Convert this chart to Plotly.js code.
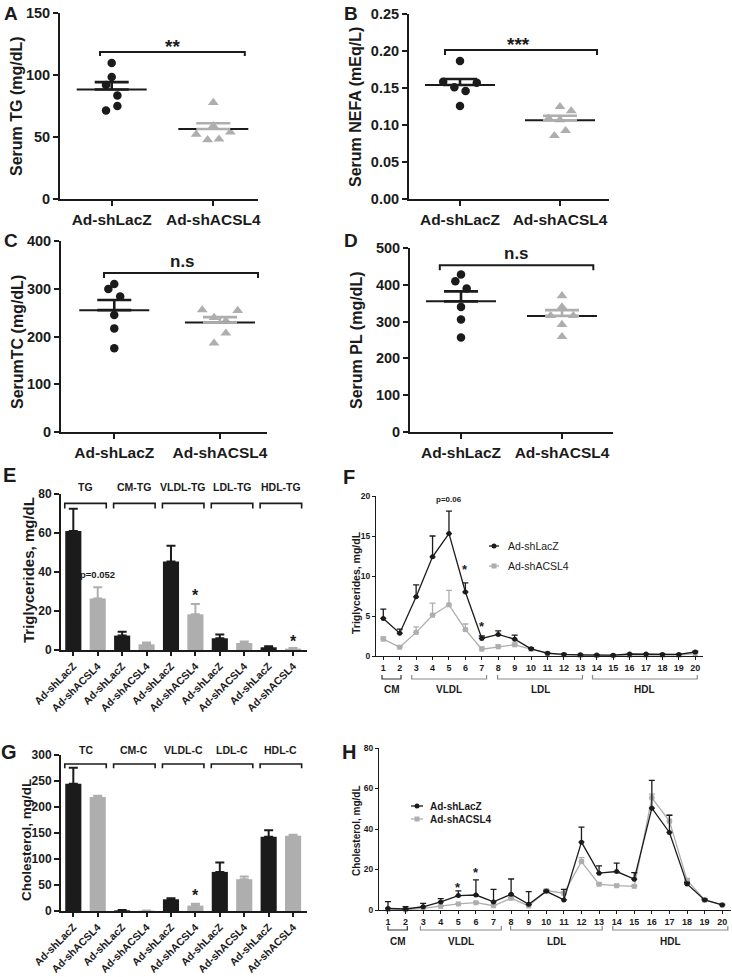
<!DOCTYPE html>
<html><head><meta charset="utf-8">
<script src="https://cdn.plot.ly/plotly-3.0.1.min.js"></script>
<style>html,body{margin:0;padding:0;background:#fff}</style>
</head><body><div id="chart" style="width:732px;height:977px"></div>
<script>
// ---------------- DATA ----------------
const groups = ['Ad-shLacZ', 'Ad-shACSL4'];
// A: Serum TG (mg/dL), individual mice
const tgLacZ  = [109.6, 98.3, 92.0, 83.5, 75.0, 71.4];
const tgACSL4 = [77.8, 52.2, 47.7, 48.2, 53.9, 59.0];
// B: Serum NEFA (mEq/L)
const nefaLacZ  = [0.1865, 0.1586, 0.151, 0.146, 0.157, 0.1257];
const nefaACSL4 = [0.1248, 0.119, 0.109, 0.107, 0.0856, 0.0923];
// C: Serum TC (mg/dL)
const tcLacZ  = [310, 299.7, 283.6, 245, 217, 175.6];
const tcACSL4 = [255.7, 254.4, 239.7, 232.8, 207, 186];
// D: Serum PL (mg/dL)
const plLacZ  = [427.8, 409.7, 390, 340, 306, 257];
const plACSL4 = [370, 340, 316, 316, 292, 259];

// E: triglycerides by lipoprotein class
const tgClasses = ['TG', 'CM-TG', 'VLDL-TG', 'LDL-TG', 'HDL-TG'];
const eLacZ     = [61.0, 7.4, 45.4, 6.0, 1.4];
const eLacZErr  = [11.5, 2.0, 8.0, 1.9, 0.5];
const eACSL4    = [26.4, 2.9, 18.3, 3.6, 0.7];
const eACSL4Err = [5.8, 0.9, 5.3, 0.7, 0.3];

// G: cholesterol by lipoprotein class
const cClasses  = ['TC', 'CM-C', 'VLDL-C', 'LDL-C', 'HDL-C'];
const gLacZ     = [244.9, 1.3, 22.5, 75.2, 142.7];
const gLacZErr  = [30.8, 0.7, 1.9, 18.0, 12.8];
const gACSL4    = [219.1, 0.8, 10.3, 61.1, 144.6];
const gACSL4Err = [2.6, 0.4, 3.8, 5.1, 1.9];

// F/H: FPLC fractions
const fractions = [1,2,3,4,5,6,7,8,9,10,11,12,13,14,15,16,17,18,19,20];
const fLacZ     = [4.7, 2.85, 7.4, 12.4, 15.3, 8.0, 2.2, 2.7, 2.1, 0.9, 0.35, 0.2, 0.15, 0.12, 0.1, 0.25, 0.25, 0.2, 0.2, 0.5];
const fLacZErr  = [1.15, 0.5, 1.5, 2.6, 2.8, 1.15, 0.3, 0.45, 0.5, 0.1, 0.05, 0.05, 0.05, 0.05, 0.05, 0.05, 0.05, 0.05, 0.05, 0.1];
const fACSL4    = [2.1, 1.1, 2.95, 5.1, 6.4, 3.3, 0.85, 1.15, 1.4, 0.85, 0.3, 0.15, 0.1, 0.05, 0.05, 0.1, 0.1, 0.1, 0.1, 0.3];
const fACSL4Err = [0.3, 0.1, 0.7, 1.5, 1.8, 0.7, 0.3, 0.25, 0.2, 0.1, 0.05, 0.05, 0.05, 0.05, 0.05, 0.05, 0.05, 0.05, 0.05, 0.05];
const hLacZ     = [0.8, 0.5, 1.6, 4.0, 7.1, 7.4, 4.0, 7.8, 2.8, 9.2, 5.0, 33.5, 18.2, 19.0, 15.2, 50.3, 38.3, 12.9, 5.0, 2.5];
const hLacZErr  = [3.3, 1.1, 1.7, 1.6, 2.3, 7.5, 6.2, 7.5, 6.3, 0.5, 5.2, 7.4, 3.6, 4.1, 3.3, 13.7, 8.5, 0.8, 0.5, 0.3];
const hACSL4    = [0.3, 0.1, 0.8, 1.8, 3.0, 3.6, 2.1, 5.8, 2.0, 9.6, 8.3, 23.9, 12.7, 12.0, 11.7, 55.4, 43.9, 14.7, 5.0, 2.5];
const hACSL4Err = [0.5, 0.3, 0.3, 0.3, 0.3, 0.3, 0.3, 0.5, 0.3, 0.5, 0.7, 2.0, 0.5, 0.5, 0.5, 1.8, 3.0, 0.8, 0.3, 0.3];
const fracGroups = [{name:'CM', first:1, last:2}, {name:'VLDL', first:3, last:7}, {name:'LDL', first:8, last:13}, {name:'HDL', first:14, last:20}];

// ---------------- STYLE / LAYOUT ----------------
const W = 732, H = 977;
const px = v => v / W, py = v => 1 - v / H;
const BLACK = '#1b1b1b', GREY = '#aeaeae';
const FONT = 'Arial, "Liberation Sans", Helvetica, sans-serif';
const layout = {
  width: W, height: H, margin: {l:0, r:0, t:0, b:0},
  paper_bgcolor: '#fff', plot_bgcolor: 'rgba(0,0,0,0)', showlegend: false,
  font: {family: FONT, color: BLACK}, annotations: [], shapes: []
};
const data = [];
const ax = n => (n > 1 ? String(n) : '');
function baseAxis(lw, tl) {
  return {showline:true, linecolor:BLACK, linewidth:lw, ticks:'outside', tickcolor:BLACK,
          tickwidth:lw, ticklen:tl, showgrid:false, zeroline:false, fixedrange:true, layer:'above traces'};
}
function setAxes(n, box, xr, yr, xopt, yopt) {
  layout['xaxis' + ax(n)] = Object.assign(baseAxis(xopt.lw, xopt.tl), {
    domain:[px(box[0]), px(box[2])], range:xr, anchor:'y' + ax(n)}, xopt.extra);
  layout['yaxis' + ax(n)] = Object.assign(baseAxis(yopt.lw, yopt.tl), {
    domain:[py(box[3]), py(box[1])], range:yr, anchor:'x' + ax(n)}, yopt.extra);
}
function ann(o) { layout.annotations.push(Object.assign({showarrow:false, xanchor:'center', yanchor:'middle', font:{family:FONT, color:BLACK}}, o)); }
function bold(size) { return {family:FONT, color:BLACK, size:size, weight:'bold'}; }
function panelLabel(t, x, y, s) { ann({text:t, xref:'paper', yref:'paper', x:px(x), y:py(y), font:bold(s)}); }
function yTitle(t, x, y, s) { ann({text:t, xref:'paper', yref:'paper', x:px(x), y:py(y), textangle:-90, font:bold(s)}); }
const mean = a => a.reduce((s, v) => s + v, 0) / a.length;
const sem = a => { const m = mean(a); return Math.sqrt(a.reduce((s, v) => s + (v - m) * (v - m), 0) / (a.length - 1) / a.length); };

// ---------- Scatter (dot) panels A-D ----------
const JSTEP = 0.056;
const dotPanels = [
  {n:1, box:[60,13,258,199], xr:[-0.509,1.44], yr:[0,150], dtick:50, fmt:'', lz:tgLacZ, ac:tgACSL4,
   jit:[[0,0,-1,1,1,-1],[0,-3,-1,1,3,0]], title:'Serum TG (mg/dL)', tx:17, ty:106,
   br:{x0:-0.115, x1:1.31, y:118.5, t:3.2}, sig:{t:'**', x:0.6, y:126.6, s:19, star:true}, lab:['A',11,13]},
  {n:2, box:[409,14,609,199], xr:[-0.51,1.49], yr:[0,0.25], dtick:0.05, fmt:'.2f', lz:nefaLacZ, ac:nefaACSL4,
   jit:[[0,-3,-1,1,3,0],[0,2,-2,0,-1,1]], title:'Serum NEFA (mEq/L)', tx:356, ty:107,
   br:{x0:-0.15, x1:1.37, y:0.2014, t:0.0068}, sig:{t:'***', x:0.58, y:0.2149, s:19, star:true}, lab:['B',351,13]},
  {n:3, box:[61,241,267,432], xr:[-0.504,1.445], yr:[0,400], dtick:100, fmt:'', lz:tcLacZ, ac:tcACSL4,
   jit:[[0,-1,1,0,0,0],[-3,3,-1,1,1,-1]], title:'SerumTC (mg/dL)', tx:17, ty:342,
   br:{x0:-0.097, x1:1.36, y:333, t:10.5}, sig:{t:'n.s', x:0.65, y:356, s:17}, lab:['C',11,240]},
  {n:4, box:[410,248,613,432], xr:[-0.505,1.505], yr:[0,500], dtick:100, fmt:'', lz:plLacZ, ac:plACSL4,
   jit:[[0,-1,1,0,0,0],[0,0,-2,2,0,0]], title:'Serum PL (mg/dL)', tx:356, ty:340,
   br:{x0:-0.21, x1:1.31, y:453, t:13.5}, sig:{t:'n.s', x:0.55, y:483, s:17}, lab:['D',351,240]}
];
dotPanels.forEach(p => {
  const n = p.n, xa = 'x' + ax(n), ya = 'y' + ax(n);
  setAxes(n, p.box, p.xr, p.yr,
    {lw:2, tl:5, extra:{tickvals:[0,1], ticktext:groups, tickfont:bold(15.5)}},
    {lw:2, tl:5, extra:{dtick:p.dtick, tick0:0, tickformat:p.fmt, tickfont:bold(14.5)}});
  const pxPerUnit = (p.box[2] - p.box[0]) / (p.xr[1] - p.xr[0]);
  const mh = 35 / pxPerUnit;
  [[p.lz, BLACK, 'circle', 8.5], [p.ac, GREY, 'triangle-up', 9.5]].forEach((g, gi) => {
    data.push({type:'scatter', mode:'markers', xaxis:xa, yaxis:ya, cliponaxis:false,
      x:g[0].map((v, i) => gi + p.jit[gi][i] * JSTEP), y:g[0],
      marker:{color:g[1], symbol:g[2], size:g[3], line:{width:0}}, hoverinfo:'skip'});
  });
  [[p.lz, BLACK], [p.ac, GREY]].forEach((g, gi) => {
    const m = mean(g[0]);
    data.push({type:'scatter', mode:'lines', xaxis:xa, yaxis:ya, x:[gi - mh, gi + mh], y:[m, m],
      line:{color:BLACK, width:2}, hoverinfo:'skip'});
  });
  [[p.lz, BLACK], [p.ac, GREY]].forEach((g, gi) => {
    const m = mean(g[0]);
    data.push({type:'scatter', mode:'markers', xaxis:xa, yaxis:ya, x:[gi], y:[m],
      marker:{opacity:0, size:1},
      error_y:{type:'data', symmetric:false, array:[sem(g[0])], arrayminus:[0], color:g[1], thickness:2.6, width:17},
      hoverinfo:'skip'});
  });
  const b = p.br;
  layout.shapes.push({type:'path', xref:xa, yref:ya, line:{color:BLACK, width:2},
    path:`M${b.x0},${b.y - b.t} L${b.x0},${b.y} L${b.x1},${b.y} L${b.x1},${b.y - b.t}`});
  ann({text:p.sig.t, xref:xa, yref:ya, x:p.sig.x, y:p.sig.y, yshift:p.sig.star ? -0.22 * p.sig.s : 1, font:bold(p.sig.s)});
  yTitle(p.title, p.tx, p.ty, 16);
  panelLabel(p.lab[0], p.lab[1], p.lab[2], 19);
});

// ---------- Bar panels E, G ----------
const barPanels = [
  {n:5, box:[61,494,307,650], yr:[0,80], dtick:20, classes:tgClasses, lz:eLacZ, lzE:eLacZErr, ac:eACSL4, acE:eACSL4Err,
   brY:75.2, brT:2.6, labY:487, title:'Triglycerides, mg/dL', tx:28, ty:570, ts:15, lab:['E',9,475],
   notes:[{t:'p=0.052', x:1, y:38.5, s:9.5}, {t:'*', x:5, y:29.7, s:16, star:true}, {t:'*', x:9, y:6.2, s:16, star:true}]},
  {n:7, box:[61,755,307,911], yr:[0,300], dtick:50, classes:cClasses, lz:gLacZ, lzE:gLacZErr, ac:gACSL4, acE:gACSL4Err,
   brY:282.7, brT:8.3, labY:750, title:'Cholesterol, mg/dL', tx:26, ty:840, ts:13.5, lab:['G',9,752],
   notes:[{t:'*', x:5, y:37, s:16, star:true}]}
];
barPanels.forEach(p => {
  const n = p.n, xa = 'x' + ax(n), ya = 'y' + ax(n);
  const idx = [], txt = [];
  p.classes.forEach((c, i) => { idx.push(2 * i, 2 * i + 1); txt.push(groups[0], groups[1]); });
  setAxes(n, p.box, [-0.504, 9.57], p.yr,
    {lw:2, tl:4, extra:{tickvals:idx, ticktext:txt, tickangle:-45, tickfont:bold(10.5)}},
    {lw:2, tl:5, extra:{dtick:p.dtick, tick0:0, tickfont:bold(12)}});
  [[p.lz, p.lzE, BLACK, 0], [p.ac, p.acE, GREY, 1]].forEach(g => {
    data.push({type:'bar', xaxis:xa, yaxis:ya, x:g[0].map((v, i) => 2 * i + g[3]), y:g[0], width:0.66,
      marker:{color:g[2], line:{width:0}},
      error_y:{type:'data', symmetric:false, array:g[1], arrayminus:g[1].map(() => 0), color:g[2], thickness:2, width:4.5},
      hoverinfo:'skip'});
  });
  p.classes.forEach((c, i) => {
    const x0 = 2 * i + 0.5 - 0.85, x1 = 2 * i + 0.5 + 0.85;
    layout.shapes.push({type:'path', xref:xa, yref:ya, line:{color:BLACK, width:1.6},
      path:`M${x0},${p.brY - p.brT} L${x0},${p.brY} L${x1},${p.brY} L${x1},${p.brY - p.brT}`});
    ann({text:c, xref:xa, yref:'paper', x:2 * i + 0.5, y:py(p.labY), font:bold(10.5)});
  });
  p.notes.forEach(o => ann({text:o.t, xref:xa, yref:ya, x:o.x, y:o.y, yshift:o.star ? -0.22 * o.s : 0, font:bold(o.s)}));
  yTitle(p.title, p.tx, p.ty, p.ts);
  panelLabel(p.lab[0], p.lab[1], p.lab[2], 20);
});

// ---------- Line panels F, H ----------
const linePanels = [
  {n:6, box:[376,496,703,656], xr:[0.556,20.47], yr:[0,20], dtick:5, lz:fLacZ, lzE:fLacZErr, ac:fACSL4, acE:fACSL4Err,
   title:'Triglycerides, mg/dL', tx:356, ty:583, ts:10.5, lab:['F',349,477],
   brY:679, brT:4, grpY:689, pads:[[-0.08,0.08],[-0.27,0.29],[-0.04,0.13],[-0.26,0.12]],
   leg:{x0:489, x1:499, y1:546, y2:566, tx:506, s:10.5, w:'normal'},
   notes:[{t:'p=0.06', x:5, y:19.6, s:8}, {t:'*', x:6, y:11.2, s:13, star:true}, {t:'*', x:7, y:4.1, s:13, star:true}]},
  {n:8, box:[379,748,731,910], xr:[0.49,20.5], yr:[0,80], dtick:20, lz:hLacZ, lzE:hLacZErr, ac:hACSL4, acE:hACSL4Err,
   title:'Cholesterol, mg/dL', tx:356, ty:831, ts:10, lab:['H',349,752],
   brY:930, brT:4, grpY:941, pads:[[0,0.1],[-0.16,0.44],[-0.03,0.18],[-0.22,0.32]],
   leg:{x0:411, x1:423, y1:806, y2:819, tx:428, s:10, w:'bold'},
   notes:[{t:'*', x:5, y:12.3, s:13, star:true}, {t:'*', x:6, y:19.8, s:13, star:true}]}
];
linePanels.forEach(p => {
  const n = p.n, xa = 'x' + ax(n), ya = 'y' + ax(n);
  setAxes(n, p.box, p.xr, p.yr,
    {lw:1, tl:3, extra:{tickvals:fractions, tickfont:bold(9)}},
    {lw:1, tl:3, extra:{dtick:p.dtick, tick0:0, tickfont:bold(8.5)}});
  [[p.ac, p.acE, GREY, 'square'], [p.lz, p.lzE, BLACK, 'circle']].forEach(g => {
    data.push({type:'scatter', mode:'lines+markers', xaxis:xa, yaxis:ya, x:fractions, y:g[0], cliponaxis:false,
      line:{color:g[2], width:1.3}, marker:{color:g[2], symbol:g[3], size:5},
      error_y:{type:'data', symmetric:false, array:g[1], arrayminus:g[1].map(() => 0), color:g[2], thickness:1.3, width:3},
      hoverinfo:'skip'});
  });
  fracGroups.forEach((gr, i) => {
    const x0 = gr.first + p.pads[i][0], x1 = gr.last + p.pads[i][1];
    const yl = py(p.brY), yt = py(p.brY - p.brT);
    layout.shapes.push({type:'path', xref:xa, yref:'paper', line:{color:i === 0 ? '#333' : '#8a8a8a', width:1.2},
      path:`M${x0},${yt} L${x0},${yl} L${x1},${yl} L${x1},${yt}`});
    ann({text:gr.name, xref:xa, yref:'paper', x:(x0 + x1) / 2, y:py(p.grpY), font:bold(10)});
  });
  // legend
  const L = p.leg;
  [[L.y1, BLACK, 'circle', groups[0]], [L.y2, GREY, 'square', groups[1]]].forEach(r => {
    layout.shapes.push({type:'line', xref:'paper', yref:'paper', x0:px(L.x0), x1:px(L.x1), y0:py(r[0]), y1:py(r[0]),
      line:{color:r[1], width:1.3}});
    const c = (L.x0 + L.x1) / 2;
    layout.shapes.push({type:r[2] === 'circle' ? 'circle' : 'rect', xref:'paper', yref:'paper',
      x0:px(c - 2.5), x1:px(c + 2.5), y0:py(r[0] + 2.5), y1:py(r[0] - 2.5), fillcolor:r[1], line:{width:0}});
    ann({text:r[3], xref:'paper', yref:'paper', x:px(L.tx), y:py(r[0]), xanchor:'left',
      font:{family:FONT, color:BLACK, size:L.s, weight:L.w}});
  });
  p.notes.forEach(o => ann({text:o.t, xref:xa, yref:ya, x:o.x, y:o.y, yshift:o.star ? -0.22 * o.s : 0, font:bold(o.s)}));
  yTitle(p.title, p.tx, p.ty, p.ts);
  panelLabel(p.lab[0], p.lab[1], p.lab[2], 20);
});

Plotly.newPlot('chart', data, layout, {staticPlot:true, displayModeBar:false});
</script></body></html>
